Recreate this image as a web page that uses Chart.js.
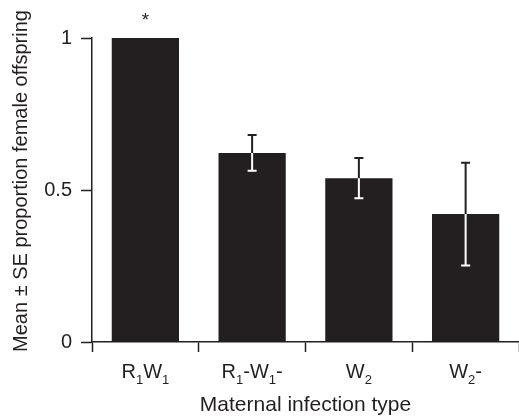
<!DOCTYPE html>
<html>
<head>
<meta charset="utf-8">
<script src="https://cdn.jsdelivr.net/npm/chart.js@4.4.1/dist/chart.umd.min.js"></script>
<style>
  body { margin: 0; background: #fff; }
</style>
</head>
<body>
<canvas id="chart" width="519" height="416"></canvas>
<script>
// data
const categories = ['R_1W_1', 'R_1-W_1-', 'W_2', 'W_2-'];
const means = [1, 0.622, 0.539, 0.421];
const stdErrors = [0, 0.059, 0.066, 0.169];
const yTicks = [0, 0.5, 1];
const marks = ['*', '', '', ''];
const yTitle = 'Mean ± SE proportion female offspring';

const ink = '#231f20';
const fontFamily = "'Liberation Sans', Arial, Helvetica, sans-serif";

// 'R_1W_1' -> [{t:'R'},{t:'1',sub:true},...]
function splitLabel(txt) {
  const parts = [];
  for (let i = 0; i < txt.length; i++) {
    if (txt[i] === '_') {
      parts.push({ t: txt[i + 1], sub: true });
      i++;
    } else {
      parts.push({ t: txt[i], sub: false });
    }
  }
  return parts;
}

const extrasPlugin = {
  id: 'extras',
  afterDatasetsDraw(chart) {
    const ctx = chart.ctx;
    const yScale = chart.scales.y;
    const xScale = chart.scales.x;
    const area = chart.chartArea;
    const meta = chart.getDatasetMeta(0);
    ctx.save();

    // error bars: dark above the bar top, white inside the bar
    ctx.lineWidth = 2;
    meta.data.forEach((bar, i) => {
      if (!stdErrors[i]) return;
      const x = bar.x;
      const top = yScale.getPixelForValue(means[i] + stdErrors[i]);
      const mid = yScale.getPixelForValue(means[i]);
      const bot = yScale.getPixelForValue(means[i] - stdErrors[i]);
      const cap = 4.5;
      ctx.strokeStyle = ink;
      ctx.beginPath();
      ctx.moveTo(x, mid); ctx.lineTo(x, top);
      ctx.moveTo(x - cap, top); ctx.lineTo(x + cap, top);
      ctx.stroke();
      ctx.strokeStyle = '#fff';
      ctx.beginPath();
      ctx.moveTo(x, mid); ctx.lineTo(x, bot);
      ctx.moveTo(x - cap, bot); ctx.lineTo(x + cap, bot);
      ctx.stroke();
    });

    // significance marks
    ctx.fillStyle = ink;
    ctx.textAlign = 'center';
    ctx.textBaseline = 'alphabetic';
    ctx.font = '19px ' + fontFamily;
    meta.data.forEach((bar, i) => {
      if (!marks[i]) return;
      const top = yScale.getPixelForValue(means[i] + stdErrors[i]);
      ctx.fillText(marks[i], bar.x, top - 12);
    });

    // category labels with subscripts
    ctx.textAlign = 'left';
    const mainFont = '20px ' + fontFamily;
    const subFont = '13px ' + fontFamily;
    const baseY = xScale.top + 36;
    categories.forEach((cat, i) => {
      const parts = splitLabel(cat);
      let w = 0;
      parts.forEach((p) => {
        ctx.font = p.sub ? subFont : mainFont;
        w += ctx.measureText(p.t).width;
      });
      let x = xScale.getPixelForValue(i) - w / 2;
      parts.forEach((p) => {
        ctx.font = p.sub ? subFont : mainFont;
        ctx.fillText(p.t, x, p.sub ? baseY + 6 : baseY);
        x += ctx.measureText(p.t).width;
      });
    });

    // y axis title, a little above the middle of the plot as in the original
    ctx.translate(27, (area.top + area.bottom) / 2 - 9);
    ctx.rotate(-Math.PI / 2);
    ctx.textAlign = 'center';
    ctx.font = '20px ' + fontFamily;
    ctx.fillText(yTitle, 0, 0);
    ctx.restore();
  }
};

new Chart(document.getElementById('chart'), {
  type: 'bar',
  data: {
    labels: categories,
    datasets: [{
      data: means,
      backgroundColor: ink,
      borderWidth: 0,
      categoryPercentage: 1,
      barPercentage: 0.63
    }]
  },
  options: {
    responsive: false,
    animation: false,
    devicePixelRatio: 1,
    layout: { padding: { top: 38, right: 0, bottom: 0, left: 0 } },
    plugins: {
      legend: { display: false },
      tooltip: { enabled: false }
    },
    scales: {
      x: {
        grid: {
          offset: true,
          drawOnChartArea: false,
          tickLength: 10,
          tickWidth: 1.5,
          color: ink
        },
        border: { color: ink, width: 1.5 },
        ticks: { callback: () => '' },
        title: {
          display: true,
          text: 'Maternal infection type',
          color: ink,
          font: { family: fontFamily, size: 21 },
          padding: { top: 0, bottom: -2 }
        },
        afterFit: (scale) => { scale.height = 74; }
      },
      y: {
        min: 0,
        max: 1,
        afterBuildTicks: (scale) => {
          scale.ticks = yTicks.map((v) => ({ value: v }));
        },
        grid: {
          drawOnChartArea: false,
          tickLength: 11,
          tickWidth: 1.5,
          color: ink
        },
        border: { color: ink, width: 1.5 },
        ticks: {
          color: ink,
          padding: 9,
          font: { family: fontFamily, size: 20 },
          callback: (v) => String(v)
        },
        title: { display: false },
        afterFit: (scale) => { scale.width = 92; }
      }
    }
  },
  plugins: [extrasPlugin]
});
</script>
</body>
</html>
